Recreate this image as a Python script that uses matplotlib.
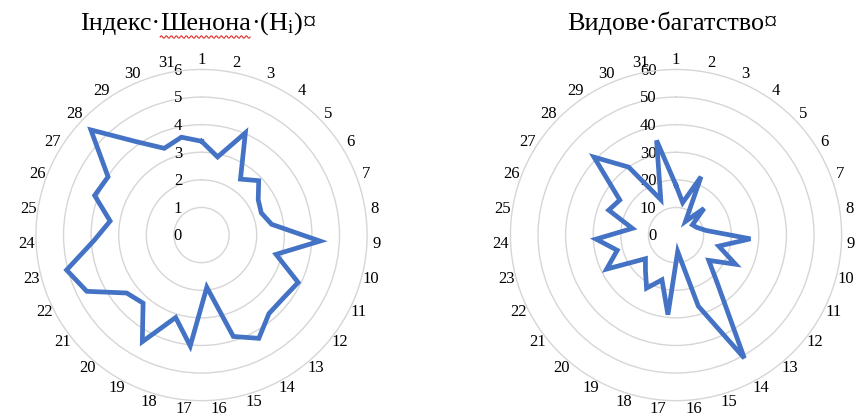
import numpy as np
import matplotlib.pyplot as plt
from matplotlib.lines import Line2D

plt.rcParams['font.family'] = ['Liberation Serif', 'DejaVu Serif']
plt.rcParams['mathtext.fontset'] = 'custom'
plt.rcParams['mathtext.rm'] = 'Liberation Serif'
plt.rcParams['mathtext.it'] = 'Liberation Serif:italic'
plt.rcParams['mathtext.default'] = 'regular'

# sampling sites 1..31
sites = [str(i) for i in range(1, 32)]

# Shannon index (H_i) per site
shannon = [3.40, 2.89, 4.03, 2.47, 2.86, 2.42, 2.31, 2.57, 4.30, 2.79,
           3.90, 3.74, 3.75, 4.28, 3.85, 1.90, 4.04, 3.13, 4.42, 3.25,
           3.43, 4.63, 5.05, 3.90, 3.35, 4.13, 3.99, 5.53, 4.12, 3.42,
           3.62]

# species richness per site
richness = [18, 12, 23, 6, 14, 7, 8, 11, 27, 16,
            24, 15, 23, 51, 27, 6, 29, 17, 22, 17,
            14, 28, 22, 29, 16, 26, 24, 41, 30, 14,
            35]

shannon_ticks = [0, 1, 2, 3, 4, 5, 6]
richness_ticks = [0, 10, 20, 30, 40, 50, 60]

LINE = '#4472C4'
GRID = '#d6d6d6'
FS = 12

fig = plt.figure(figsize=(8.61, 4.18), dpi=100)


def radar(rect, values, ticks):
    ax = fig.add_axes(rect, projection='polar')
    ax.set_theta_zero_location('N')
    ax.set_theta_direction(-1)
    theta = np.linspace(0, 2 * np.pi, len(values), endpoint=False)
    th = np.append(theta, theta[0])
    v = np.append(values, values[0])
    ax.plot(th, v, color=LINE, lw=3.4, solid_joinstyle='miter', zorder=3)
    ax.set_ylim(0, ticks[-1])
    ax.set_yticks(ticks[1:-1])
    ax.set_yticklabels([])
    ax.set_xticks(theta)
    ax.set_xticklabels(sites, fontsize=FS)
    ax.tick_params(axis='x', pad=0, length=0)
    ax.xaxis.grid(False)
    ax.yaxis.grid(True, color=GRID, lw=1)
    ax.spines['polar'].set_color(GRID)
    ax.spines['polar'].set_linewidth(1)
    for t in ticks:
        ax.annotate(str(t), xy=(0, t), xytext=(-14, -1), textcoords='offset points',
                    ha='right', va='center', fontsize=FS, zorder=2)
    return ax


ax1 = radar([0.0417, 0.0415, 0.3847, 0.7923], shannon, shannon_ticks)
ax2 = radar([0.5928, 0.0415, 0.3847, 0.7923], richness, richness_ticks)


def text_run(x, y, parts, size):
    r = fig.canvas.get_renderer()
    out = []
    for s in parts:
        t = fig.text(x, y, s, va='baseline', ha='left', fontsize=size)
        bb = t.get_window_extent(r)
        x = fig.transFigure.inverted().transform((bb.x1, 0))[0]
        out.append(t)
    return out


title_y = (418 - 30) / 418
left_parts = text_run(80 / 861, title_y, ['Індекс·', 'Шенона', '·(H$_i$)', '¤'], 18.8)
text_run(567 / 861, title_y, ['Видове·багатство', '¤'], 18.8)

# spell-check squiggle under "Шенона"
r = fig.canvas.get_renderer()
bb = left_parts[1].get_window_extent(r)
xs = np.arange(bb.x0, bb.x1, 1.0)
ys = bb.y0 - 2 + 1.3 * np.sin((xs - bb.x0) * np.pi / 2.5)
fig.add_artist(Line2D(xs, ys, color='#e0302a', lw=0.8, transform=None))

fig.savefig('out.png', dpi=100)
